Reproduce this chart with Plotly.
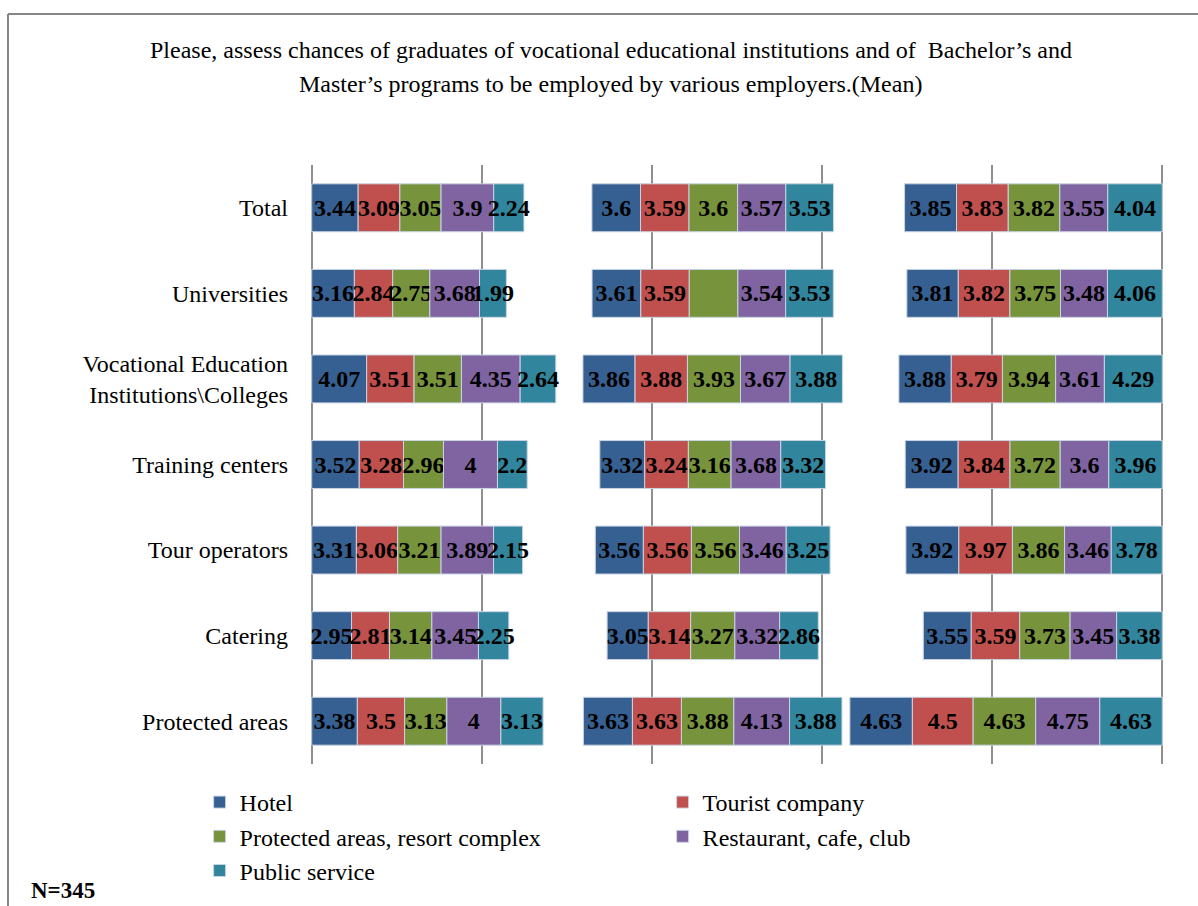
import plotly.graph_objects as go

# ---- data -----------------------------------------------------------------
CATEGORIES = [
    "Total",
    "Universities",
    "Vocational Education<br>Institutions\\Colleges",
    "Training centers",
    "Tour operators",
    "Catering",
    "Protected areas",
]
EMPLOYERS = [
    "Hotel",
    "Tourist company",
    "Protected areas, resort complex",
    "Restaurant, cafe, club",
    "Public service",
]

# graduates of vocational educational institutions
VOC_HOTEL = [3.44, 3.16, 4.07, 3.52, 3.31, 2.95, 3.38]
VOC_TOURIST = [3.09, 2.84, 3.51, 3.28, 3.06, 2.81, 3.5]
VOC_PROTECTED = [3.05, 2.75, 3.51, 2.96, 3.21, 3.14, 3.13]
VOC_RESTAURANT = [3.9, 3.68, 4.35, 4, 3.89, 3.45, 4]
VOC_PUBLIC = [2.24, 1.99, 2.64, 2.2, 2.15, 2.25, 3.13]

# Bachelor's programs
BA_HOTEL = [3.6, 3.61, 3.86, 3.32, 3.56, 3.05, 3.63]
BA_TOURIST = [3.59, 3.59, 3.88, 3.24, 3.56, 3.14, 3.63]
BA_PROTECTED = [3.6, 3.6, 3.93, 3.16, 3.56, 3.27, 3.88]
BA_RESTAURANT = [3.57, 3.54, 3.67, 3.68, 3.46, 3.32, 4.13]
BA_PUBLIC = [3.53, 3.53, 3.88, 3.32, 3.25, 2.86, 3.88]

# Master's programs
MA_HOTEL = [3.85, 3.81, 3.88, 3.92, 3.92, 3.55, 4.63]
MA_TOURIST = [3.83, 3.82, 3.79, 3.84, 3.97, 3.59, 4.5]
MA_PROTECTED = [3.82, 3.75, 3.94, 3.72, 3.86, 3.73, 4.63]
MA_RESTAURANT = [3.55, 3.48, 3.61, 3.6, 3.46, 3.45, 4.75]
MA_PUBLIC = [4.04, 4.06, 4.29, 3.96, 3.78, 3.38, 4.63]

# segments printed without a value label: (panel, category, employer)
UNLABELLED = {(1, 1, 2)}

# ---- style / geometry -----------------------------------------------------
COLORS = ["#376092", "#C0504D", "#77933C", "#8064A2", "#31859C"]
SERIF = "Liberation Serif"
AXIS_MAX = 63          # value axis span (three panels side by side)
GRID_STEP = 12.6
MID_CENTER = 29.7      # centre line of the middle panel
PAD = 0.2              # small margin so the end grid lines stay visible

W, H = 1198, 906
X0_PX, X1_PX = 312, 1162          # pixel positions of 0 and AXIS_MAX
SCALE = (X1_PX - X0_PX) / AXIS_MAX
M_L = X0_PX - PAD * SCALE
M_R = W - (X1_PX + PAD * SCALE)
M_T, M_B = 165, 142
PLOT_W = W - M_L - M_R
PLOT_H = H - M_T - M_B


def px_x(px):
    return (px - M_L) / PLOT_W


def px_y(py):
    return (H - M_B - py) / PLOT_H


panels = [
    [VOC_HOTEL, VOC_TOURIST, VOC_PROTECTED, VOC_RESTAURANT, VOC_PUBLIC],
    [BA_HOTEL, BA_TOURIST, BA_PROTECTED, BA_RESTAURANT, BA_PUBLIC],
    [MA_HOTEL, MA_TOURIST, MA_PROTECTED, MA_RESTAURANT, MA_PUBLIC],
]

# starting position of each panel row
starts = []
for p, series in enumerate(panels):
    totals = [sum(s[i] for s in series) for i in range(len(CATEGORIES))]
    if p == 0:
        starts.append([0.0] * len(CATEGORIES))
    elif p == 1:
        starts.append([MID_CENTER - t / 2 for t in totals])
    else:
        starts.append([AXIS_MAX - t for t in totals])

fig = go.Figure()
for k, name in enumerate(EMPLOYERS):
    ys, xs, bases, texts = [], [], [], []
    for p, series in enumerate(panels):
        for i, cat in enumerate(CATEGORIES):
            offset = starts[p][i] + sum(series[j][i] for j in range(k))
            v = series[k][i]
            ys.append(cat)
            xs.append(v)
            bases.append(offset)
            texts.append("" if (p, i, k) in UNLABELLED else f"{v:g}")
    fig.add_trace(go.Bar(
        name=name,
        orientation="h",
        y=ys,
        x=xs,
        base=bases,
        width=0.56,
        text=texts,
        textposition="inside",
        insidetextanchor="middle",
        constraintext="none",
        textangle=0,
        textfont=dict(family=SERIF, size=24, color="black", weight="bold"),
        marker=dict(color=COLORS[k], line=dict(color="#c9d4e3", width=1)),
        hoverinfo="x+y+name",
    ))

fig.update_layout(
    width=W,
    height=H,
    margin=dict(l=M_L, r=M_R, t=M_T, b=M_B),
    paper_bgcolor="white",
    plot_bgcolor="white",
    barmode="overlay",
    font=dict(family=SERIF, color="black"),
    showlegend=True,
    legend=dict(
        orientation="h",
        x=px_x(200),
        xanchor="left",
        y=px_y(780),
        yanchor="top",
        entrywidth=418,
        entrywidthmode="pixels",
        traceorder="normal",
        font=dict(family=SERIF, size=24, color="black"),
    ),
    xaxis=dict(
        range=[-PAD, AXIS_MAX + PAD],
        tick0=0,
        dtick=GRID_STEP,
        showgrid=True,
        gridcolor="#8f8f8f",
        gridwidth=2,
        zeroline=False,
        showline=False,
        showticklabels=False,
        ticks="",
        fixedrange=True,
    ),
    yaxis=dict(
        categoryorder="array",
        categoryarray=CATEGORIES,
        autorange="reversed",
        showgrid=False,
        zeroline=False,
        showline=False,
        ticks="",
        ticklabelstandoff=20,
        tickfont=dict(family=SERIF, size=24, color="black"),
    ),
)

# title (two centred lines)
TITLE_LINES = [
    "Please, assess chances of graduates of vocational educational institutions and of  Bachelor\u2019s and",
    "Master\u2019s programs to be employed by various employers.(Mean)",
]
for line, py in zip(TITLE_LINES, [50, 84]):
    fig.add_annotation(
        text=line, xref="paper", yref="paper",
        x=px_x(611), y=px_y(py), xanchor="center", yanchor="middle",
        showarrow=False, font=dict(family=SERIF, size=24, color="black"),
    )

fig.add_annotation(
    text="N=345", xref="paper", yref="paper",
    x=px_x(29), y=px_y(890), xanchor="left", yanchor="middle",
    showarrow=False, font=dict(family=SERIF, size=23, color="black", weight="bold"),
)

# chart-area frame (top and left edges)
frame = dict(color="#868686", width=2)
fig.add_shape(type="line", xref="paper", yref="paper",
              x0=px_x(8.5), x1=px_x(1210), y0=px_y(14), y1=px_y(14), line=frame)
fig.add_shape(type="line", xref="paper", yref="paper",
              x0=px_x(8.5), x1=px_x(8.5), y0=px_y(14), y1=px_y(920), line=frame)

fig.write_html("out.html")
